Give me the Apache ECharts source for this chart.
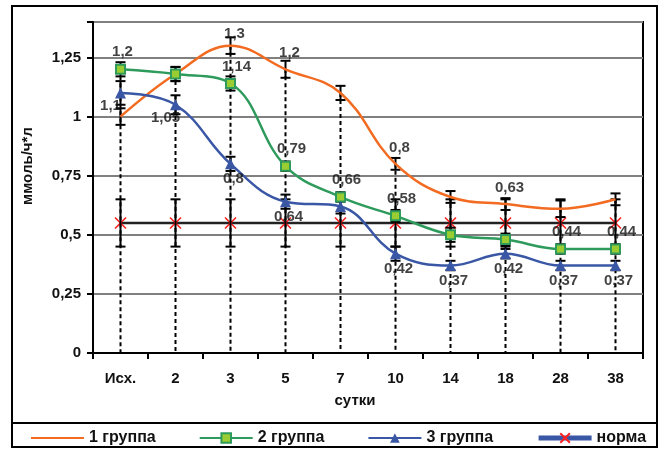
<!DOCTYPE html>
<html>
<head>
<meta charset="utf-8">
<script src="https://cdn.jsdelivr.net/npm/echarts@6/dist/echarts.min.js"></script>
<style>html,body{margin:0;padding:0;background:#fff}#c{width:662px;height:450px}</style>
</head>
<body>
<div id="c"></div>
<script>
var categories = ['Исх.', '2', '3', '5', '7', '10', '14', '18', '28', '38'];
var group1 = [1.0, 1.18, 1.3, 1.2, 1.1, 0.8, 0.66, 0.63, 0.61, 0.65];
var group2 = [1.2, 1.18, 1.14, 0.79, 0.66, 0.58, 0.5, 0.48, 0.44, 0.44];
var group3 = [1.1, 1.05, 0.8, 0.64, 0.62, 0.42, 0.37, 0.42, 0.37, 0.37];
var norma  = [0.55, 0.55, 0.55, 0.55, 0.55, 0.55, 0.55, 0.55, 0.55, 0.55];
var err1 = [0.035, 0.03, 0.035, 0.036, 0.03, 0.025, 0.025, 0.025, 0.035, 0.025];
var err2 = [0.03, 0.03, 0.03, 0.02, 0.02, 0.025, 0.03, 0.025, 0.02, 0.02];
var err3 = [0.05, 0.04, 0.03, 0.03, 0.03, 0.03, 0.02, 0.02, 0.02, 0.02];
var errN = [0.1, 0.1, 0.1, 0.1, 0.1, 0.1, 0.1, 0.1, 0.1, 0.1];
var labeled1 = [0, 0, 1, 1, 0, 1, 0, 1, 0, 0];
var labeled2 = [1, 0, 1, 1, 1, 1, 0, 0, 1, 1];
var labeled3 = [1, 1, 1, 1, 0, 1, 1, 1, 1, 1];
var yTicks = [0, 0.25, 0.5, 0.75, 1, 1.25];
var seriesNames = ['1 группа', '2 группа', '3 группа', 'норма'];

var FONT = '"Liberation Sans", Arial, sans-serif';
var chart = echarts.init(document.getElementById('c'));

function fmt(v) { return String(v).replace('.', ','); }

function errSeries(vals, errs) {
  return {
    type: 'custom', z: 3, silent: true,
    data: vals.map(function (v, i) { return [i, v, errs[i]]; }),
    renderItem: function (params, api) {
      var x = api.value(0), v = api.value(1), e = api.value(2);
      var t = api.coord([x, v + e]), b = api.coord([x, v - e]);
      var hw = 5, st = { stroke: '#000', lineWidth: 2 };
      return { type: 'group', children: [
        { type: 'line', shape: { x1: t[0], y1: t[1], x2: b[0], y2: b[1] }, style: st },
        { type: 'line', shape: { x1: t[0] - hw, y1: t[1], x2: t[0] + hw, y2: t[1] }, style: st },
        { type: 'line', shape: { x1: b[0] - hw, y1: b[1], x2: b[0] + hw, y2: b[1] }, style: st }
      ]};
    }
  };
}

function labelSeries(vals, flags, pos, dist, offFn) {
  var data = [];
  vals.forEach(function (v, i) {
    if (flags[i]) {
      data.push({ value: [i, v], label: { offset: offFn(i) } });
    }
  });
  return {
    type: 'scatter', z: 6, silent: true, symbolSize: 1,
    itemStyle: { color: 'rgba(0,0,0,0)' },
    label: {
      show: true, position: pos, distance: dist,
      fontFamily: FONT, fontWeight: 'bold', fontSize: 15, color: '#111',
      formatter: function (p) { return fmt(p.value[1]); }
    },
    data: data
  };
}

var dropTop = categories.map(function (c, i) {
  return Math.max(group1[i], group2[i], group3[i]);
});

var xSymbol = 'path://M0 0L10 10M10 0L0 10';

var option = {
  animation: false,
  backgroundColor: '#fff',
  grid: { left: 93, right: 19, top: 22, bottom: 97, show: true, borderColor: '#000', borderWidth: 2, backgroundColor: 'transparent' },
  legend: {
    left: 25, top: 425, width: 640, itemWidth: 53, itemHeight: 12, itemGap: 43,
    textStyle: { fontFamily: FONT, fontWeight: 'bold', fontSize: 16, color: '#111' },
    data: [
      { name: seriesNames[0], itemStyle: { opacity: 0 } },
      { name: seriesNames[1] },
      { name: seriesNames[2] },
      { name: seriesNames[3], lineStyle: { color: '#3A57A6', width: 5 } }
    ]
  },
  xAxis: {
    type: 'category', data: categories, boundaryGap: true,
    axisLine: { lineStyle: { color: '#000', width: 2 } },
    axisTick: { show: true, length: 6, lineStyle: { color: '#000', width: 2 } },
    axisLabel: { margin: 18, fontFamily: FONT, fontWeight: 'bold', fontSize: 15, color: '#111' },
    splitLine: { show: false }
  },
  yAxis: {
    type: 'value', min: 0, max: 1.4, interval: 0.25,
    axisLine: { show: true, lineStyle: { color: '#000', width: 2 } },
    axisTick: { show: true, length: 6, lineStyle: { color: '#000', width: 2 } },
    axisLabel: { margin: 12, fontFamily: FONT, fontWeight: 'bold', fontSize: 15, color: '#111',
      formatter: function (v) { return yTicks.indexOf(Math.round(v * 100) / 100) >= 0 ? fmt(Math.round(v * 100) / 100) : ''; } },
    splitLine: { show: true, lineStyle: { color: '#808080', width: 2 } }
  },
  graphic: [
    { type: 'rect', shape: { x: 12, y: 6, width: 645, height: 441 }, style: { fill: 'none', stroke: '#000', lineWidth: 2 }, z: 100 },
    { type: 'line', shape: { x1: 12, y1: 423, x2: 657, y2: 423 }, style: { stroke: '#000', lineWidth: 2 }, z: 100 },
    { type: 'text', x: 28, y: 166, rotation: Math.PI / 2,
      style: { text: 'ммоль/ч*л', fontFamily: FONT, fontWeight: 'bold', fontSize: 15, fill: '#111', textAlign: 'center', textVerticalAlign: 'middle' } },
    { type: 'text', x: 355, y: 401,
      style: { text: 'сутки', fontFamily: FONT, fontWeight: 'bold', fontSize: 15, fill: '#111', textAlign: 'center', textVerticalAlign: 'middle' } }
  ],
  series: [
    {
      type: 'custom', z: 1, silent: true,
      data: dropTop.map(function (v, i) { return [i, v]; }),
      renderItem: function (params, api) {
        var x = api.value(0), v = api.value(1);
        var t = api.coord([x, v]), b = api.coord([x, 0]);
        return { type: 'line', shape: { x1: t[0], y1: t[1], x2: b[0], y2: b[1] },
          style: { stroke: '#000', lineWidth: 2, lineDash: [4, 3] } };
      }
    },
    {
      name: seriesNames[3], type: 'line', data: norma, z: 2,
      symbol: xSymbol, symbolSize: 11, showSymbol: true,
      lineStyle: { color: '#222', width: 2.5 },
      itemStyle: { color: '#FF2020', borderColor: '#FF2020', borderWidth: 1.6 }
    },
    errSeries(norma, errN),
    errSeries(group1, err1),
    errSeries(group2, err2),
    errSeries(group3, err3),
    {
      name: seriesNames[0], type: 'line', data: group1, z: 4, smooth: 0.4,
      symbol: 'none',
      lineStyle: { color: '#F26B21', width: 2.5 },
      itemStyle: { color: '#F26B21' }
    },
    {
      name: seriesNames[1], type: 'line', data: group2, z: 4, smooth: 0.4,
      symbol: 'rect', symbolSize: 9,
      lineStyle: { color: '#2E9B5C', width: 2.5 },
      itemStyle: { color: '#9ACD32', borderColor: '#2E9B5C', borderWidth: 2 }
    },
    {
      name: seriesNames[2], type: 'line', data: group3, z: 4, smooth: 0.4,
      symbol: 'triangle', symbolSize: 11,
      lineStyle: { color: '#3A57A6', width: 2.5 },
      itemStyle: { color: '#3A57A6' }
    },
    labelSeries(group1, labeled1, 'top', 8, function (i) { return [4, i === 2 ? 4 : 0]; }),
    labelSeries(group2, labeled2, 'top', 9, function (i) { return [i === 0 ? 2 : 6, 0]; }),
    labelSeries(group3, labeled3, 'bottom', 7, function (i) { return i < 2 ? [-10, -2] : [3, 0]; })
  ]
};
chart.setOption(option);
</script>
</body>
</html>
